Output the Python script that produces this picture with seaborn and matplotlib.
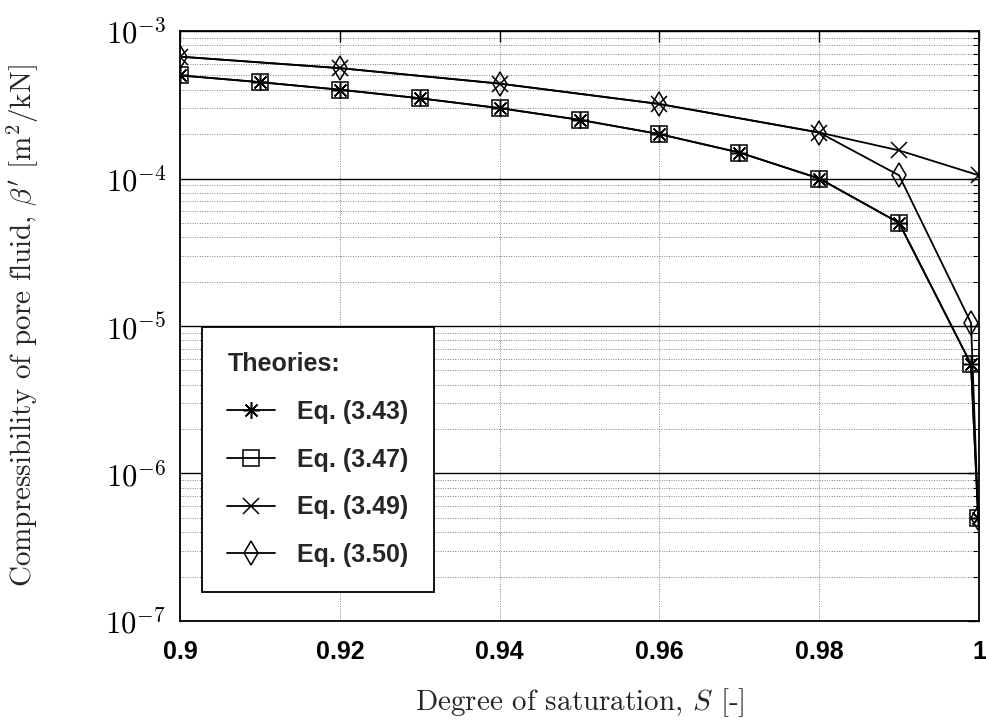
import numpy as np
import pandas as pd
import matplotlib
matplotlib.use("Agg")
import matplotlib.pyplot as plt
import seaborn as sns
from matplotlib.ticker import FixedLocator, LogLocator, NullFormatter

# ---- data ----
S_sq = [0.90, 0.91, 0.92, 0.93, 0.94, 0.95, 0.96, 0.97, 0.98, 0.99, 0.999, 0.9999]
beta_343 = [5.0e-4, 4.5e-4, 4.0e-4, 3.5e-4, 3.0e-4, 2.5e-4, 2.0e-4, 1.5e-4, 1.0e-4, 5.0e-5, 5.5e-6, 5.0e-7]
beta_347 = [5.0e-4, 4.5e-4, 4.0e-4, 3.5e-4, 3.0e-4, 2.5e-4, 2.0e-4, 1.5e-4, 1.0e-4, 5.0e-5, 5.5e-6, 5.0e-7]
S_349 = [0.90, 0.92, 0.94, 0.96, 0.98, 0.99, 1.0]
beta_349 = [6.7e-4, 5.6e-4, 4.4e-4, 3.2e-4, 2.05e-4, 1.55e-4, 1.05e-4]
S_350 = [0.90, 0.92, 0.94, 0.96, 0.98, 0.99, 0.999, 0.9999]
beta_350 = [6.7e-4, 5.6e-4, 4.4e-4, 3.2e-4, 2.05e-4, 1.05e-4, 1.05e-5, 5.0e-7]
labels = ["Eq. (3.43)", "Eq. (3.47)", "Eq. (3.49)", "Eq. (3.50)"]
xticks = [0.9, 0.92, 0.94, 0.96, 0.98, 1.0]
xticklabels = ["0.9", "0.92", "0.94", "0.96", "0.98", "1"]

sns.set_theme(style="white")
plt.rcParams["mathtext.fontset"] = "cm"
plt.rcParams["axes.unicode_minus"] = False

fig = plt.figure(figsize=(9.86, 7.21), dpi=100)
ax = fig.add_axes([0.1826, 0.1387, 0.8103, 0.8183])

series = [
    (S_sq, beta_343, (8, 2, 0), labels[0]),
    (S_sq, beta_347, "s", labels[1]),
    (S_349, beta_349, "x", labels[2]),
    (S_350, beta_350, "d", labels[3]),
]
for xs, ys, mk, lab in series:
    df = pd.DataFrame({"S": xs, "beta": ys})
    sns.lineplot(data=df, x="S", y="beta", ax=ax, color="black", lw=1.3,
                 marker=mk, markersize=12, markerfacecolor="none",
                 markeredgecolor="black", markeredgewidth=1.1, label=lab,
                 estimator=None, sort=False)

ax.set_yscale("log")
ax.set_xlim(0.9, 1.0)
ax.set_ylim(1e-7, 1e-3)

ax.xaxis.set_major_locator(FixedLocator(xticks))
ax.set_xticklabels(xticklabels, fontfamily="Liberation Sans", fontweight="bold", fontsize=18)
ax.yaxis.set_minor_locator(LogLocator(base=10, subs=np.arange(2, 10), numticks=20))
ax.yaxis.set_minor_formatter(NullFormatter())
ax.set_yticks([1e-7, 1e-6, 1e-5, 1e-4, 1e-3])
ax.set_yticklabels([r"$10^{-7}$", r"$10^{-6}$", r"$10^{-5}$", r"$10^{-4}$", r"$10^{-3}$"], fontsize=22)

ax.tick_params(axis="both", which="both", direction="in", top=True, right=True, colors="black")
ax.tick_params(axis="both", which="major", length=8, width=1)
ax.tick_params(axis="y", which="minor", length=4, width=0.8)
ax.tick_params(axis="x", which="major", pad=14)
ax.tick_params(axis="y", which="major", pad=10)

ax.grid(True, axis="y", which="major", color="black", lw=1.0, ls="-")
ax.grid(True, axis="y", which="minor", color="#808080", lw=0.7, ls=(0, (1, 1.5)))
ax.grid(True, axis="x", which="major", color="#808080", lw=0.7, ls=(0, (1, 1.5)))
for sp in ax.spines.values():
    sp.set_color("black")
    sp.set_linewidth(1.3)

ax.set_xlabel("Degree of saturation, $S$ [-]", fontfamily="cmr10", fontsize=21, labelpad=16)
ax.set_ylabel("Compressibility of pore fluid, $\\beta'$ [m$^2$/kN]", fontfamily="cmr10", fontsize=21, labelpad=46)

leg = ax.legend(title="Theories:", loc="lower left", bbox_to_anchor=(0.028, 0.049),
                borderaxespad=0, frameon=True, fancybox=False, edgecolor="black", framealpha=1,
                handlelength=1.9, labelspacing=0.95, borderpad=1.0, handletextpad=0.9,
                prop={"family": "Liberation Sans", "weight": "bold", "size": 18},
                title_fontproperties={"family": "Liberation Sans", "weight": "bold", "size": 18},
                alignment="left")
leg.get_frame().set_linewidth(1.3)
for h in leg.legend_handles:
    h.set_markersize(12)

fig.savefig("out.png", dpi=100)
